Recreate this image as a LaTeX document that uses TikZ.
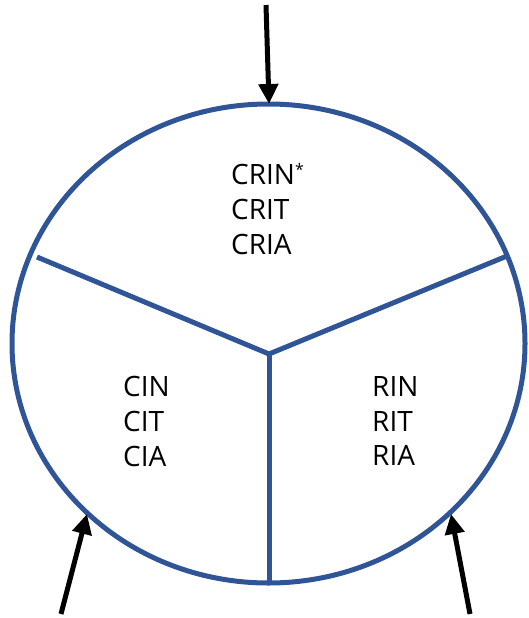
\documentclass[tikz,border=0pt]{standalone}
\usepackage{fontspec}
\setmainfont{Open Sans}
\usetikzlibrary{arrows.meta}

\begin{document}
\begin{tikzpicture}[line cap=butt,line join=round,x=1pt,y=-1pt,
  part/.style={draw=ringblue,line width=5pt},
  lbl/.style={anchor=west,align=left,inner sep=0pt,font=\fontsize{28}{35}\selectfont},
  arr/.style={line width=5pt,-{Triangle[width=19pt,length=20pt]}}]
\definecolor{ringblue}{RGB}{47,85,151}
\useasboundingbox (0,0) rectangle (529,618);

% ring and the three sectors
\coordinate (c) at (268.5,343.5);
\coordinate (mid) at (269,354);
\coordinate (westend) at (37,257);
\coordinate (eastend) at (507,256);
\coordinate (southend) at (269,583);
\draw[part] (c) ellipse [x radius=256.5, y radius=239.5];
\draw[part] (westend) -- (mid) -- (eastend);
\draw[part] (mid) -- (southend);

% sector contents
\node[lbl] (top) at (231,209) {CRIN\raisebox{9pt}{\fontsize{16}{16}\selectfont *}\\CRIT\\CRIA};
\node[lbl] (left) at (123,421) {CIN\\CIT\\CIA};
\node[lbl] (right) at (372,421) {RIN\\RIT\\RIA};

% inputs
\coordinate (topin) at (266,5);
\coordinate (toptip) at (269,104);
\coordinate (leftin) at (61,614);
\coordinate (lefttip) at (87,514);
\coordinate (rightin) at (470,614);
\coordinate (righttip) at (451,514);
\draw[arr] (topin) -- (toptip);
\draw[arr] (leftin) -- (lefttip);
\draw[arr] (rightin) -- (righttip);

\end{tikzpicture}
\end{document}
